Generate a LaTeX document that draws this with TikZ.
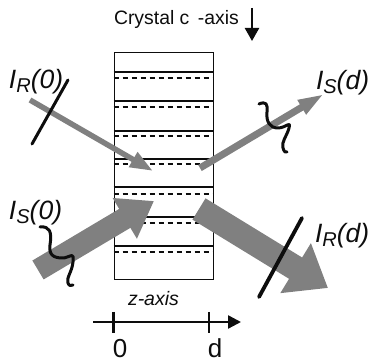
\documentclass[tikz,border=0pt]{standalone}
\usepackage{fontspec}
\setmainfont{Liberation Sans}
\usetikzlibrary{arrows.meta}
\definecolor{beam}{gray}{0.5}
\definecolor{ink}{gray}{0.05}
\tikzset{
  solidlayer/.style={draw=ink,line width=2.6pt},
  dashlayer/.style={draw=ink,line width=2.6pt,dash pattern=on 5.5pt off 3.5pt},
  slash/.style={draw=ink,line cap=round},
  squig/.style={draw=ink,line width=3pt,line cap=round,line join=round},
  lab/.style={inner sep=0pt,outer sep=0pt,anchor=base west,text=ink},
  biglab/.style={lab,font=\fontsize{26.5}{26.5}\selectfont\itshape},
}
\newcommand{\beamlab}[2]{I\raisebox{-4pt}{\fontsize{20}{20}\selectfont #1}(#2)}
\begin{document}
\begin{tikzpicture}[x=1pt,y=-1pt]
\useasboundingbox (0,0) rectangle (370,363);
% crystal
\node[draw=ink,line width=1.2pt,minimum width=99.5pt,minimum height=227pt,inner sep=0pt,anchor=north west] (crystal) at (113.5,52) {};
\foreach \s/\d in {72/78,101/107,131/136,159/164,187/194,217/223,246/252}{
  \draw[solidlayer] (113.5,\s) -- (213,\s);
  \draw[dashlayer] (113.5,\d) -- (213,\d);
}
% labels top
\node[lab,font=\fontsize{19.4}{19.4}\selectfont] (title) at (114,25) {Crystal c\hspace{3pt} -axis};
\coordinate (ca) at (252,8);
\coordinate (cb) at (252,41);
\draw[draw=ink,line width=2.4pt,-{Triangle[length=13pt,width=14pt]}] (ca) -- (cb);
% I_R(0) beam
\coordinate (r0a) at (30,100);
\coordinate (r0b) at (153,171);
\draw[draw=beam,line width=5.5pt,-{Triangle[length=23pt,width=16pt,color=beam]}] (r0a) -- (r0b);
\draw[slash,line width=3pt] (68,80) -- (32,144);
% I_S(0) beam
\coordinate (s0a) at (38,270);
\coordinate (s0b) at (154,201);
\draw[draw=beam,line width=22pt,-{Triangle[length=34pt,width=45pt,color=beam]}] (s0a) -- (s0b);
% I_S(d) beam
\coordinate (sda) at (200,168);
\coordinate (sdb) at (324,94);
\draw[draw=beam,line width=7pt,-{Triangle[length=26pt,width=15pt,color=beam]}] (sda) -- (sdb);
% I_R(d) beam
\coordinate (rda) at (199,209);
\coordinate (rdb) at (328,288);
\draw[draw=beam,line width=25pt,-{Triangle[length=38pt,width=56pt,color=beam]}] (rda) -- (rdb);
\draw[slash,line width=3.8pt] (302,218) -- (259,297);
% squiggles
\draw[squig] (40,227) .. controls (50,226) and (52,232) .. (50,245)
  .. controls (48,258) and (58,258) .. (64,258)
  .. controls (72,256) and (74,252) .. (73,262)
  .. controls (72,272) and (66,278) .. (68,283)
  .. controls (69,286) and (71,286) .. (73,285);
\draw[squig] (259,104) .. controls (266,101) and (268,104) .. (267,112)
  .. controls (266,122) and (270,128) .. (278,128)
  .. controls (286,128) and (291,120) .. (289,128)
  .. controls (287,136) and (281,142) .. (283,148)
  .. controls (284,152) and (286,153) .. (287,152);
% beam labels
\node[biglab] (lr0) at (9,89) {\beamlab{R}{0}};
\node[biglab] (ls0) at (9,220) {\beamlab{S}{0}};
\node[biglab] (lsd) at (316,90) {\beamlab{S}{d}};
\node[biglab] (lrd) at (315,243) {\beamlab{R}{d}};
% axis
\node[lab,font=\fontsize{19.5}{19.5}\selectfont\itshape] (zlab) at (128,306) {z-axis};
\coordinate (za) at (93,322);
\coordinate (zb) at (241,322);
\draw[draw=ink,line width=2.4pt,-{Triangle[length=13pt,width=13pt]}] (za) -- (zb);
\coordinate (t0a) at (113.5,312);
\coordinate (t0b) at (113.5,333);
\coordinate (tda) at (209,312);
\coordinate (tdb) at (209,333);
\draw[draw=ink,line width=2.4pt] (t0a) -- (t0b);
\draw[draw=ink,line width=2.4pt] (tda) -- (tdb);
\node[lab,anchor=base,font=\fontsize{26}{26}\selectfont] (n0) at (120,357.5) {0};
\node[lab,anchor=base,font=\fontsize{26}{26}\selectfont] (nd) at (215,357.5) {d};
\end{tikzpicture}
\end{document}
